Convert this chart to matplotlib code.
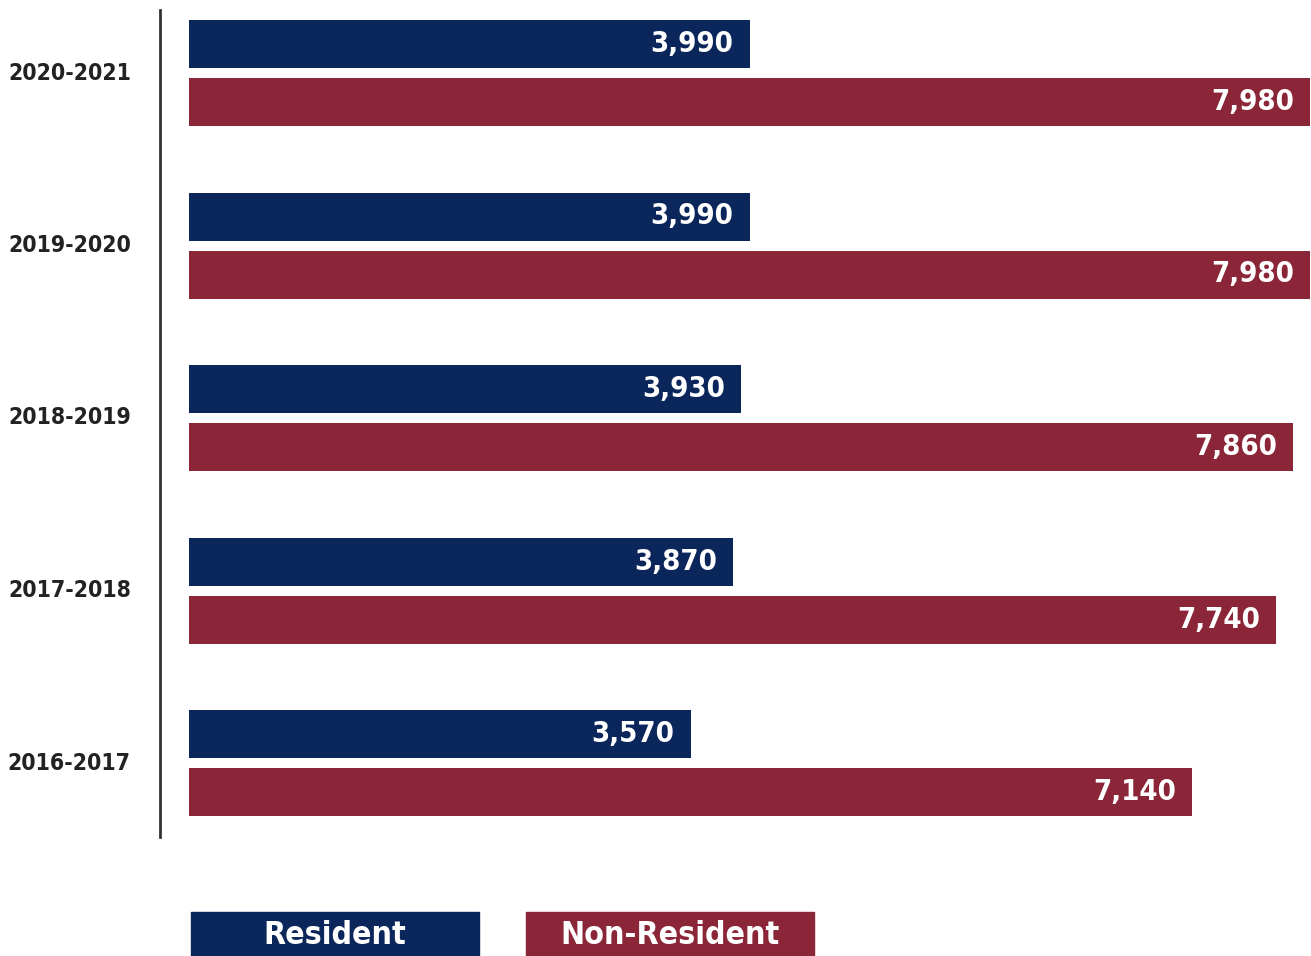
import matplotlib.pyplot as plt
from matplotlib.patches import Rectangle

years = ["2020-2021", "2019-2020", "2018-2019", "2017-2018", "2016-2017"]
resident = [3990, 3990, 3930, 3870, 3570]
non_resident = [7980, 7980, 7860, 7740, 7140]

navy = "#0b265a"
maroon = "#8b2638"
fonts = ["Liberation Sans Narrow", "DejaVu Sans"]

plt.rcParams["font.family"] = fonts
plt.rcParams["font.stretch"] = "condensed"
plt.rcParams["font.weight"] = "bold"

W, H = 1311, 956
fig = plt.figure(figsize=(W / 100, H / 100), dpi=100)
ax = fig.add_axes([160 / W, (H - 837) / H, 1151 / W, 827 / H])

pos = list(range(len(years)))
bar_h = 48 / 172.5
off = 29 / 172.5

ax.barh([p - off for p in pos], resident, height=bar_h, color=navy)
ax.barh([p + off for p in pos], non_resident, height=bar_h, color=maroon)

for p, v in zip(pos, resident):
    ax.annotate(f"{v:,}", (v, p - off), xytext=(-16, 0), textcoords="offset pixels",
                ha="right", va="center", color="white", fontsize=21, fontweight="bold")
for p, v in zip(pos, non_resident):
    ax.annotate(f"{v:,}", (v, p + off), xytext=(-16, 0), textcoords="offset pixels",
                ha="right", va="center", color="white", fontsize=21, fontweight="bold")

ax.set_xlim(-206.4, 7987)
ax.set_ylim((837 - 73) / 172.5, (10 - 73) / 172.5)
ax.set_yticks(pos)
ax.set_yticklabels(years, fontsize=16.5, fontweight="bold", color="#222222", va="center")
ax.tick_params(axis="y", length=0, pad=21)
ax.set_xticks([])
for s in ["top", "right", "bottom"]:
    ax.spines[s].set_visible(False)
ax.spines["left"].set_color("#333333")
ax.spines["left"].set_linewidth(2)

# legend boxes along the bottom
for x0, label, col in [(191, "Resident", navy), (526, "Non-Resident", maroon)]:
    fig.patches.append(Rectangle((x0 / W, 0), 288 / W, 44 / H, transform=fig.transFigure,
                                 color=col))
    fig.text((x0 + 144) / W, 21 / H, label, ha="center", va="center", color="white",
             fontsize=23, fontweight="bold")

fig.savefig("out.png", dpi=100)
